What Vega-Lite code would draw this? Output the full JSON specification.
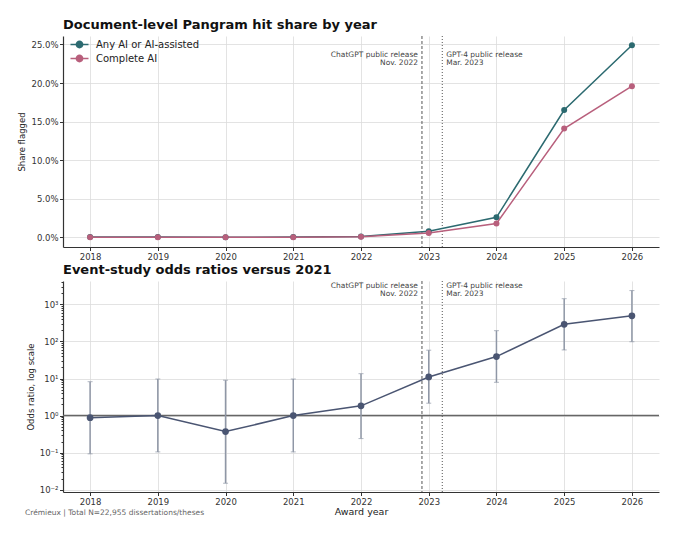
{
  "$schema": "https://vega.github.io/schema/vega-lite/v6.json",
  "background": "white",
  "padding": {"left": 17, "top": 18, "right": 21, "bottom": 8},
  "title": {
    "text": "Crémieux | Total N=22,955 dissertations/theses",
    "orient": "bottom",
    "anchor": "start",
    "frame": "bounds",
    "fontSize": 7.5,
    "fontWeight": "normal",
    "color": "#666666",
    "offset": -7,
    "dx": 7
  },
  "datasets": {
    "shares": [
      {"year": 2018, "series": "Any AI or AI-assisted", "share": 0.0004},
      {"year": 2019, "series": "Any AI or AI-assisted", "share": 0.0004},
      {"year": 2020, "series": "Any AI or AI-assisted", "share": 0.0002},
      {"year": 2021, "series": "Any AI or AI-assisted", "share": 0.0004},
      {"year": 2022, "series": "Any AI or AI-assisted", "share": 0.001},
      {"year": 2023, "series": "Any AI or AI-assisted", "share": 0.008},
      {"year": 2024, "series": "Any AI or AI-assisted", "share": 0.026},
      {"year": 2025, "series": "Any AI or AI-assisted", "share": 0.165},
      {"year": 2026, "series": "Any AI or AI-assisted", "share": 0.249},
      {"year": 2018, "series": "Complete AI", "share": 0.0003},
      {"year": 2019, "series": "Complete AI", "share": 0.0003},
      {"year": 2020, "series": "Complete AI", "share": 0.0001},
      {"year": 2021, "series": "Complete AI", "share": 0.0003},
      {"year": 2022, "series": "Complete AI", "share": 0.0008},
      {"year": 2023, "series": "Complete AI", "share": 0.0055},
      {"year": 2024, "series": "Complete AI", "share": 0.018},
      {"year": 2025, "series": "Complete AI", "share": 0.141},
      {"year": 2026, "series": "Complete AI", "share": 0.196}
    ],
    "odds": [
      {"year": 2018, "or": 0.88, "lo": 0.093, "hi": 8.2},
      {"year": 2019, "or": 1.0, "lo": 0.105, "hi": 9.7},
      {"year": 2020, "or": 0.37, "lo": 0.015, "hi": 9.0},
      {"year": 2021, "or": 1.0, "lo": 0.105, "hi": 9.7},
      {"year": 2022, "or": 1.83, "lo": 0.24, "hi": 13.5},
      {"year": 2023, "or": 11, "lo": 2.16, "hi": 58},
      {"year": 2024, "or": 39, "lo": 7.9, "hi": 195},
      {"year": 2025, "or": 290, "lo": 59, "hi": 1420},
      {"year": 2026, "or": 490, "lo": 98, "hi": 2350}
    ],
    "events": [
      {"year": 2022.9, "style": "dashed", "side": "left", "label": ["ChatGPT public release", "Nov. 2022"]},
      {"year": 2023.2, "style": "dotted", "side": "right", "label": ["GPT-4 public release", "Mar. 2023"]}
    ],
    "reference": [{"or": 1}]
  },
  "spacing": 2,
  "vconcat": [
    {
      "width": 596,
      "height": 211,
      "title": {"text": "Document-level Pangram hit share by year", "frame": "group"},
      "layer": [
        {
          "data": {"name": "events"},
          "mark": {"type": "rule", "color": "#555555", "strokeWidth": 1},
          "encoding": {
            "x": {"field": "year", "type": "quantitative"},
            "strokeDash": {
              "field": "style",
              "type": "nominal",
              "scale": {"domain": ["dashed", "dotted"], "range": [[3, 2], [1, 2]]},
              "legend": null
            }
          }
        },
        {
          "data": {"name": "events"},
          "transform": [{"filter": "datum.side == 'left'"}],
          "mark": {"type": "text", "align": "right", "baseline": "top", "dx": -4, "fontSize": 7.5, "color": "#444444", "lineHeight": 8},
          "encoding": {
            "x": {"field": "year", "type": "quantitative"},
            "y": {"datum": 0.2416},
            "text": {"field": "label"}
          }
        },
        {
          "data": {"name": "events"},
          "transform": [{"filter": "datum.side == 'right'"}],
          "mark": {"type": "text", "align": "left", "baseline": "top", "dx": 4, "fontSize": 7.5, "color": "#444444", "lineHeight": 8},
          "encoding": {
            "x": {"field": "year", "type": "quantitative"},
            "y": {"datum": 0.2416},
            "text": {"field": "label"}
          }
        },
        {
          "data": {"name": "shares"},
          "mark": {"type": "line", "strokeWidth": 1.5, "point": {"filled": true, "size": 36}},
          "encoding": {
            "x": {
              "field": "year",
              "type": "quantitative",
              "scale": {"domain": [2017.6, 2026.4], "nice": false, "zero": false},
              "axis": {"values": [2018, 2019, 2020, 2021, 2022, 2023, 2024, 2025, 2026], "format": "d", "title": null, "grid": true}
            },
            "y": {
              "field": "share",
              "type": "quantitative",
              "scale": {"domain": [-0.0125, 0.261], "nice": false, "zero": false},
              "axis": {"values": [0, 0.05, 0.1, 0.15, 0.2, 0.25], "format": ".1%", "title": "Share flagged", "grid": true}
            },
            "color": {
              "field": "series",
              "type": "nominal",
              "scale": {"domain": ["Any AI or AI-assisted", "Complete AI"], "range": ["#2c6a70", "#b85f7c"]},
              "legend": {
                "title": null,
                "orient": "none",
                "legendX": 11,
                "legendY": 3,
                "padding": 0,
                "labelFontSize": 10,
                "labelColor": "#222222",
                "labelOffset": 11,
                "rowPadding": 1,
                "symbolSize": 81,
                "symbolStrokeWidth": 1.5,
                "symbolType": "M-2,0H2M0.7,0A0.7,0.7,0,1,1,-0.7,0A0.7,0.7,0,1,1,0.7,0Z",
                "encode": {"symbols": {"update": {"fill": {"scale": "color", "field": "value"}}}}
              }
            }
          }
        }
      ]
    },
    {
      "width": 596,
      "height": 211,
      "title": {"text": "Event-study odds ratios versus 2021", "frame": "group"},
      "layer": [
        {
          "data": {"name": "events"},
          "mark": {"type": "rule", "color": "#555555", "strokeWidth": 1},
          "encoding": {
            "x": {"field": "year", "type": "quantitative"},
            "strokeDash": {
              "field": "style",
              "type": "nominal",
              "scale": {"domain": ["dashed", "dotted"], "range": [[3, 2], [1, 2]]},
              "legend": null
            }
          }
        },
        {
          "data": {"name": "events"},
          "transform": [{"filter": "datum.side == 'left'"}],
          "mark": {"type": "text", "align": "right", "baseline": "top", "dx": -4, "dy": 1, "fontSize": 7.5, "color": "#444444", "lineHeight": 8},
          "encoding": {
            "x": {"field": "year", "type": "quantitative"},
            "y": {"datum": 4260},
            "text": {"field": "label"}
          }
        },
        {
          "data": {"name": "events"},
          "transform": [{"filter": "datum.side == 'right'"}],
          "mark": {"type": "text", "align": "left", "baseline": "top", "dx": 4, "dy": 1, "fontSize": 7.5, "color": "#444444", "lineHeight": 8},
          "encoding": {
            "x": {"field": "year", "type": "quantitative"},
            "y": {"datum": 4260},
            "text": {"field": "label"}
          }
        },
        {
          "data": {"name": "reference"},
          "mark": {"type": "rule", "color": "#666666", "strokeWidth": 1.5},
          "encoding": {"y": {"field": "or", "type": "quantitative", "title": "Odds ratio, log scale"}}
        },
        {
          "data": {"name": "odds"},
          "mark": {"type": "errorbar", "ticks": {"size": 5, "thickness": 1}, "color": "#8f97a6", "thickness": 1.5},
          "encoding": {
            "x": {"field": "year", "type": "quantitative"},
            "y": {"field": "lo", "type": "quantitative", "title": "Odds ratio, log scale"},
            "y2": {"field": "hi"}
          }
        },
        {
          "data": {"name": "odds"},
          "mark": {"type": "line", "color": "#4a5572", "strokeWidth": 1.5, "point": {"filled": true, "size": 45, "color": "#4a5572"}},
          "encoding": {
            "x": {
              "field": "year",
              "type": "quantitative",
              "scale": {"domain": [2017.6, 2026.4], "nice": false, "zero": false},
              "axis": {"values": [2018, 2019, 2020, 2021, 2022, 2023, 2024, 2025, 2026], "format": "d", "title": "Award year", "grid": true}
            },
            "y": {
              "field": "or",
              "type": "quantitative",
              "title": "Odds ratio, log scale",
              "scale": {"type": "log", "domain": [0.0087, 4260], "nice": false},
              "axis": {
                "title": "Odds ratio, log scale",
                "grid": true,
                "values": [0.01, 0.02, 0.03, 0.04, 0.05, 0.06, 0.07, 0.08, 0.09, 0.1, 0.2, 0.3, 0.4, 0.5, 0.6, 0.7, 0.8, 0.9, 1, 2, 3, 4, 5, 6, 7, 8, 9, 10, 20, 30, 40, 50, 60, 70, 80, 90, 100, 200, 300, 400, 500, 600, 700, 800, 900, 1000, 2000, 3000, 4000],
                "labelExpr": "datum.value == 1000 ? '10³' : datum.value == 100 ? '10²' : datum.value == 10 ? '10¹' : datum.value == 1 ? '10⁰' : datum.value == 0.1 ? '10⁻¹' : datum.value == 0.01 ? '10⁻²' : ''",
                "tickSize": {"condition": {"test": "abs(log(datum.value)/LN10 - round(log(datum.value)/LN10)) < 0.001", "value": 3.5}, "value": 2},
                "gridOpacity": {"condition": {"test": "abs(log(datum.value)/LN10 - round(log(datum.value)/LN10)) < 0.001", "value": 1}, "value": 0}
              }
            }
          }
        }
      ]
    }
  ],
  "config": {
    "font": "DejaVu Sans",
    "view": {"stroke": null},
    "title": {"anchor": "start", "fontSize": 13, "fontWeight": "bold", "color": "#111111", "offset": 4},
    "axis": {
      "domainColor": "#333333",
      "domainWidth": 1.2,
      "tickColor": "#333333",
      "tickSize": 3.5,
      "labelFontSize": 8.5,
      "labelColor": "#333333",
      "labelPadding": 1.5,
      "titleFontSize": 8.5,
      "titleFontWeight": "normal",
      "titleColor": "#222222",
      "gridColor": "#dcdcdc",
      "gridWidth": 0.8
    },
    "axisX": {"titleFontSize": 9.5, "titlePadding": 1}
  }
}
